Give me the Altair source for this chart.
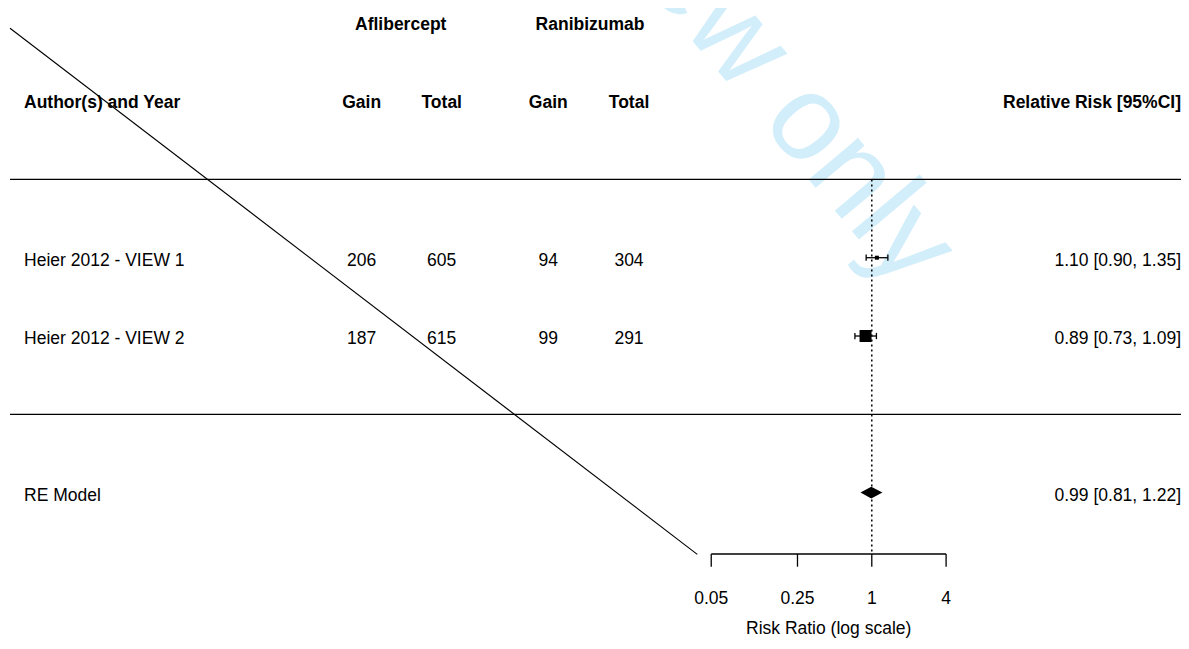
import math
import altair as alt
import pandas as pd

# ---------------- data ----------------
studies = ["Heier 2012 - VIEW 1", "Heier 2012 - VIEW 2"]
afl_gain = [206, 187]
afl_total = [605, 615]
ran_gain = [94, 99]
ran_total = [304, 291]
rr = [1.10, 0.89]
ci_lo = [0.90, 0.73]
ci_hi = [1.35, 1.09]
re_label = "RE Model"
re_est, re_lo, re_hi = 0.99, 0.81, 1.22
tick_values = [0.05, 0.25, 1, 4]
tick_labels = ["0.05", "0.25", "1", "4"]
group_headers = ["Aflibercept", "Ranibizumab"]
col_headers = ["Gain", "Total", "Gain", "Total"]
left_header = "Author(s) and Year"
right_header = "Relative Risk [95%CI]"
axis_title = "Risk Ratio (log scale)"
watermark = "For Peer Review only"

# ---------------- layout (log-RR units on x, row units on y) ----------------
W, H = 1173, 633
X_DOM = [-16.116, 5.769]
Y_DOM = [-2.895, 5.189]
FONT = "Liberation Sans"
FS = 17.5
col_x = [-9.517, -8.024, -6.035, -4.530]
group_x = [-8.789, -5.257]
left_x = -15.817
right_x = X_DOM[1]
study_rows = [2, 1]
re_row = -1
header_row = 4
group_row = 5
line_rows = [3, 0]
line_x0 = -16.078
axis_row = -1.784
tick_row = -1.946
label_row = -2.36
title_row = -2.745
diag = dict(x=-16.078, y=4.930, x2=-3.256, y2=-1.788)
square_px = [4, 12]
cap_h = 0.04
dia_h = 0.075
wm_pos = (1.12, 1.86)
wm_size = 122

xs = alt.Scale(domain=X_DOM, nice=False, zero=False)
ys = alt.Scale(domain=Y_DOM, nice=False, zero=False)


def X(f="x"):
    return alt.X(f"{f}:Q", scale=xs, axis=None)


def Y(f="y"):
    return alt.Y(f"{f}:Q", scale=ys, axis=None)


# watermark
wm_df = pd.DataFrame({"x": [wm_pos[0]], "y": [wm_pos[1]], "t": [watermark]})
wm = alt.Chart(wm_df).mark_text(
    font=FONT, fontSize=wm_size, color="#d3eefb", angle=50, align="right",
    baseline="middle", clip=False
).encode(x=X(), y=Y(), text="t:N")

# horizontal separators
hl_df = pd.DataFrame({"x": [line_x0] * 2, "x2": [X_DOM[1]] * 2, "y": line_rows})
hlines = alt.Chart(hl_df).mark_rule(color="black", strokeWidth=1.2).encode(
    x=X(), x2="x2:Q", y=Y())

# reference line at RR = 1
ref_df = pd.DataFrame({"x": [0.0], "y": [line_rows[0]], "y2": [axis_row]})
ref = alt.Chart(ref_df).mark_rule(color="black", strokeWidth=1.5,
                                  strokeDash=[2, 3]).encode(x=X(), y=Y(), y2="y2:Q")

# diagonal stray line
dg_df = pd.DataFrame([diag])
dline = alt.Chart(dg_df).mark_rule(color="black", strokeWidth=1.1).encode(
    x=X(), y=Y(), x2="x2:Q", y2="y2:Q")

# study CIs
st_df = pd.DataFrame({
    "lx": [math.log(v) for v in ci_lo],
    "hx": [math.log(v) for v in ci_hi],
    "ex": [math.log(v) for v in rr],
    "y": study_rows,
    "yl": [r - cap_h for r in study_rows],
    "yh": [r + cap_h for r in study_rows],
    "s": [p * p for p in square_px],
})
ci = alt.Chart(st_df).mark_rule(color="black", strokeWidth=1.3).encode(
    x=X("lx"), x2="hx:Q", y=Y())
cap_lo = alt.Chart(st_df).mark_rule(color="black", strokeWidth=1.3).encode(
    x=X("lx"), y=Y("yl"), y2="yh:Q")
cap_hi = alt.Chart(st_df).mark_rule(color="black", strokeWidth=1.3).encode(
    x=X("hx"), y=Y("yl"), y2="yh:Q")
sq = alt.Chart(st_df).mark_square(color="black", opacity=1, filled=True).encode(
    x=X("ex"), y=Y(), size=alt.Size("s:Q", scale=None, legend=None))

# diamond
dm_df = pd.DataFrame({
    "x": [math.log(re_lo), math.log(re_est), math.log(re_hi)],
    "y": [re_row, re_row + dia_h, re_row],
    "y2": [re_row, re_row - dia_h, re_row],
})
diamond = alt.Chart(dm_df).mark_area(color="black", opacity=1, orient="vertical").encode(
    x=X(), y=Y(), y2="y2:Q")

# custom x axis
ax_lo, ax_hi = math.log(tick_values[0]), math.log(tick_values[-1])
ax_df = pd.DataFrame({"x": [ax_lo], "x2": [ax_hi], "y": [axis_row]})
axline = alt.Chart(ax_df).mark_rule(color="black", strokeWidth=1.3).encode(
    x=X(), x2="x2:Q", y=Y())
tk_df = pd.DataFrame({"x": [math.log(v) for v in tick_values], "lab": tick_labels,
                      "y": [axis_row] * 4, "y2": [tick_row] * 4, "ly": [label_row] * 4})
ticks = alt.Chart(tk_df).mark_rule(color="black", strokeWidth=1.3).encode(
    x=X(), y=Y(), y2="y2:Q")
tlabels = alt.Chart(tk_df).mark_text(font=FONT, fontSize=FS, color="black",
                                     baseline="middle", align="center").encode(
    x=X(), y=Y("ly"), text="lab:N")
at_df = pd.DataFrame({"x": [(ax_lo + ax_hi) / 2], "y": [title_row], "t": [axis_title]})
atitle = alt.Chart(at_df).mark_text(font=FONT, fontSize=FS, color="black",
                                    baseline="middle", align="center").encode(
    x=X(), y=Y(), text="t:N")

# headers (bold)
hd_rows = []
for t, x in zip(group_headers, group_x):
    hd_rows.append({"x": x, "y": group_row, "t": t})
for t, x in zip(col_headers, col_x):
    hd_rows.append({"x": x, "y": header_row, "t": t})
hd_df = pd.DataFrame(hd_rows)
headers = alt.Chart(hd_df).mark_text(font=FONT, fontSize=FS, fontWeight="bold",
                                     color="black", baseline="middle", align="center",
                                     dy=2).encode(x=X(), y=Y(), text="t:N")
lh = alt.Chart(pd.DataFrame({"x": [left_x], "y": [header_row], "t": [left_header]})).mark_text(
    font=FONT, fontSize=FS, fontWeight="bold", color="black", baseline="middle",
    align="left", dy=2).encode(x=X(), y=Y(), text="t:N")
rh = alt.Chart(pd.DataFrame({"x": [right_x], "y": [header_row], "t": [right_header]})).mark_text(
    font=FONT, fontSize=FS, fontWeight="bold", color="black", baseline="middle",
    align="right", dy=2).encode(x=X(), y=Y(), text="t:N")

# study text
names = studies + [re_label]
name_rows = study_rows + [re_row]
nm_df = pd.DataFrame({"x": [left_x] * 3, "y": name_rows, "t": names})
ntext = alt.Chart(nm_df).mark_text(font=FONT, fontSize=FS, color="black",
                                   baseline="middle", align="left", dy=3).encode(
    x=X(), y=Y(), text="t:N")

num_rows = []
for i, r in enumerate(study_rows):
    for cx, v in zip(col_x, [afl_gain[i], afl_total[i], ran_gain[i], ran_total[i]]):
        num_rows.append({"x": cx, "y": r, "t": str(v)})
nb_df = pd.DataFrame(num_rows)
nums = alt.Chart(nb_df).mark_text(font=FONT, fontSize=FS, color="black",
                                  baseline="middle", align="center", dy=3).encode(
    x=X(), y=Y(), text="t:N")

ann = [f"{e:.2f} [{l:.2f}, {h:.2f}]" for e, l, h in zip(rr, ci_lo, ci_hi)]
ann.append(f"{re_est:.2f} [{re_lo:.2f}, {re_hi:.2f}]")
an_df = pd.DataFrame({"x": [right_x] * 3, "y": name_rows, "t": ann})
atext = alt.Chart(an_df).mark_text(font=FONT, fontSize=FS, color="black",
                                   baseline="middle", align="right", dy=3).encode(
    x=X(), y=Y(), text="t:N")

chart = alt.layer(
    wm, hlines, ref, dline, ci, cap_lo, cap_hi, sq, diamond,
    axline, ticks, tlabels, atitle, headers, lh, rh, ntext, nums, atext
).properties(
    width=W, height=H, padding=0,
    autosize=alt.AutoSizeParams(type="none"),
).configure_view(stroke=None)

chart.save("out.html", embed_options={"renderer": "svg", "actions": False})
